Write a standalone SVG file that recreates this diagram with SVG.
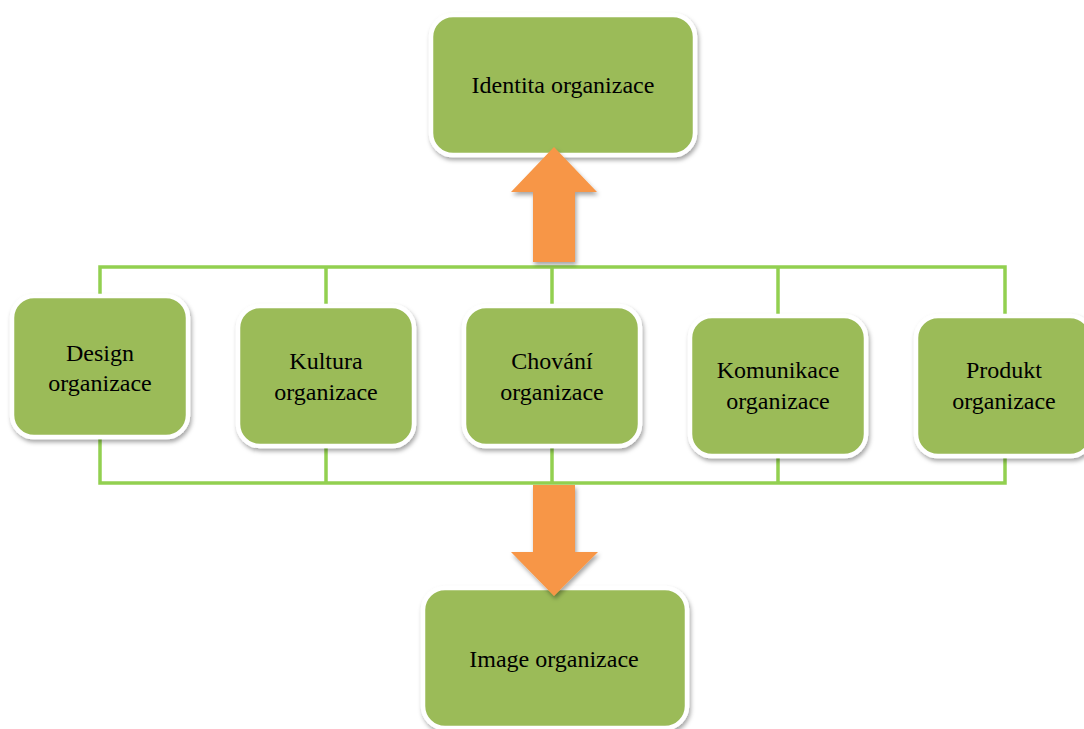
<svg xmlns="http://www.w3.org/2000/svg" width="1084" height="729" viewBox="0 0 1084 729">
<style>
.box{fill:#9BBB59;stroke:#FFFFFF;stroke-width:4.5}
.lbl{font-family:'Liberation Serif','DejaVu Serif',serif;font-size:24px;fill:#000;text-anchor:middle}
.conn{fill:none;stroke:#92D050;stroke-width:3.5}
.arrow{fill:#F79646}
</style>
<defs>
<filter id="sh" x="-10%" y="-10%" width="125%" height="125%">
<feDropShadow dx="1.5" dy="3" stdDeviation="2" flood-color="#000" flood-opacity="0.35"/>
</filter>
</defs>
<rect width="1084" height="729" fill="#FFFFFF"/>
<g id="connectors">
<path class="conn" d="M100,296 V267 H1005 V316 M326,267 V306 M552,267 V306 M778,267 V316"/>
<path class="conn" d="M100,437 V483 H1005 V456 M326,446 V483 M552,446 V483 M778,456 V483"/>
</g>
<g id="identita">
<rect class="box" filter="url(#sh)" x="431" y="15" width="264" height="140" rx="22"/>
<text class="lbl" x="563" y="93">Identita organizace</text>
</g>
<g id="design">
<rect class="box" filter="url(#sh)" x="12" y="296" width="176" height="141" rx="22"/>
<text class="lbl" x="100" y="361">Design</text>
<text class="lbl" x="100" y="391">organizace</text>
</g>
<g id="kultura">
<rect class="box" filter="url(#sh)" x="238" y="306" width="176" height="140" rx="22"/>
<text class="lbl" x="326" y="369">Kultura</text>
<text class="lbl" x="326" y="400">organizace</text>
</g>
<g id="chovani">
<rect class="box" filter="url(#sh)" x="464" y="306" width="176" height="140" rx="22"/>
<text class="lbl" x="552" y="369">Chování</text>
<text class="lbl" x="552" y="400">organizace</text>
</g>
<g id="komunikace">
<rect class="box" filter="url(#sh)" x="690" y="316" width="176" height="140" rx="22"/>
<text class="lbl" x="778" y="378">Komunikace</text>
<text class="lbl" x="778" y="409">organizace</text>
</g>
<g id="produkt">
<rect class="box" filter="url(#sh)" x="916" y="316" width="176" height="140" rx="22"/>
<text class="lbl" x="1004" y="378">Produkt</text>
<text class="lbl" x="1004" y="409">organizace</text>
</g>
<g id="image">
<rect class="box" filter="url(#sh)" x="423" y="588" width="264" height="140" rx="22"/>
<text class="lbl" x="554" y="667">Image organizace</text>
</g>
<g id="arrows">
<polygon class="arrow" filter="url(#sh)" points="554,147 597,192 575,192 575,262 533,262 533,192 511,192"/>
<polygon class="arrow" filter="url(#sh)" points="533,485 575,485 575,552 598,552 554,596 511,552 533,552"/>
</g>
</svg>
